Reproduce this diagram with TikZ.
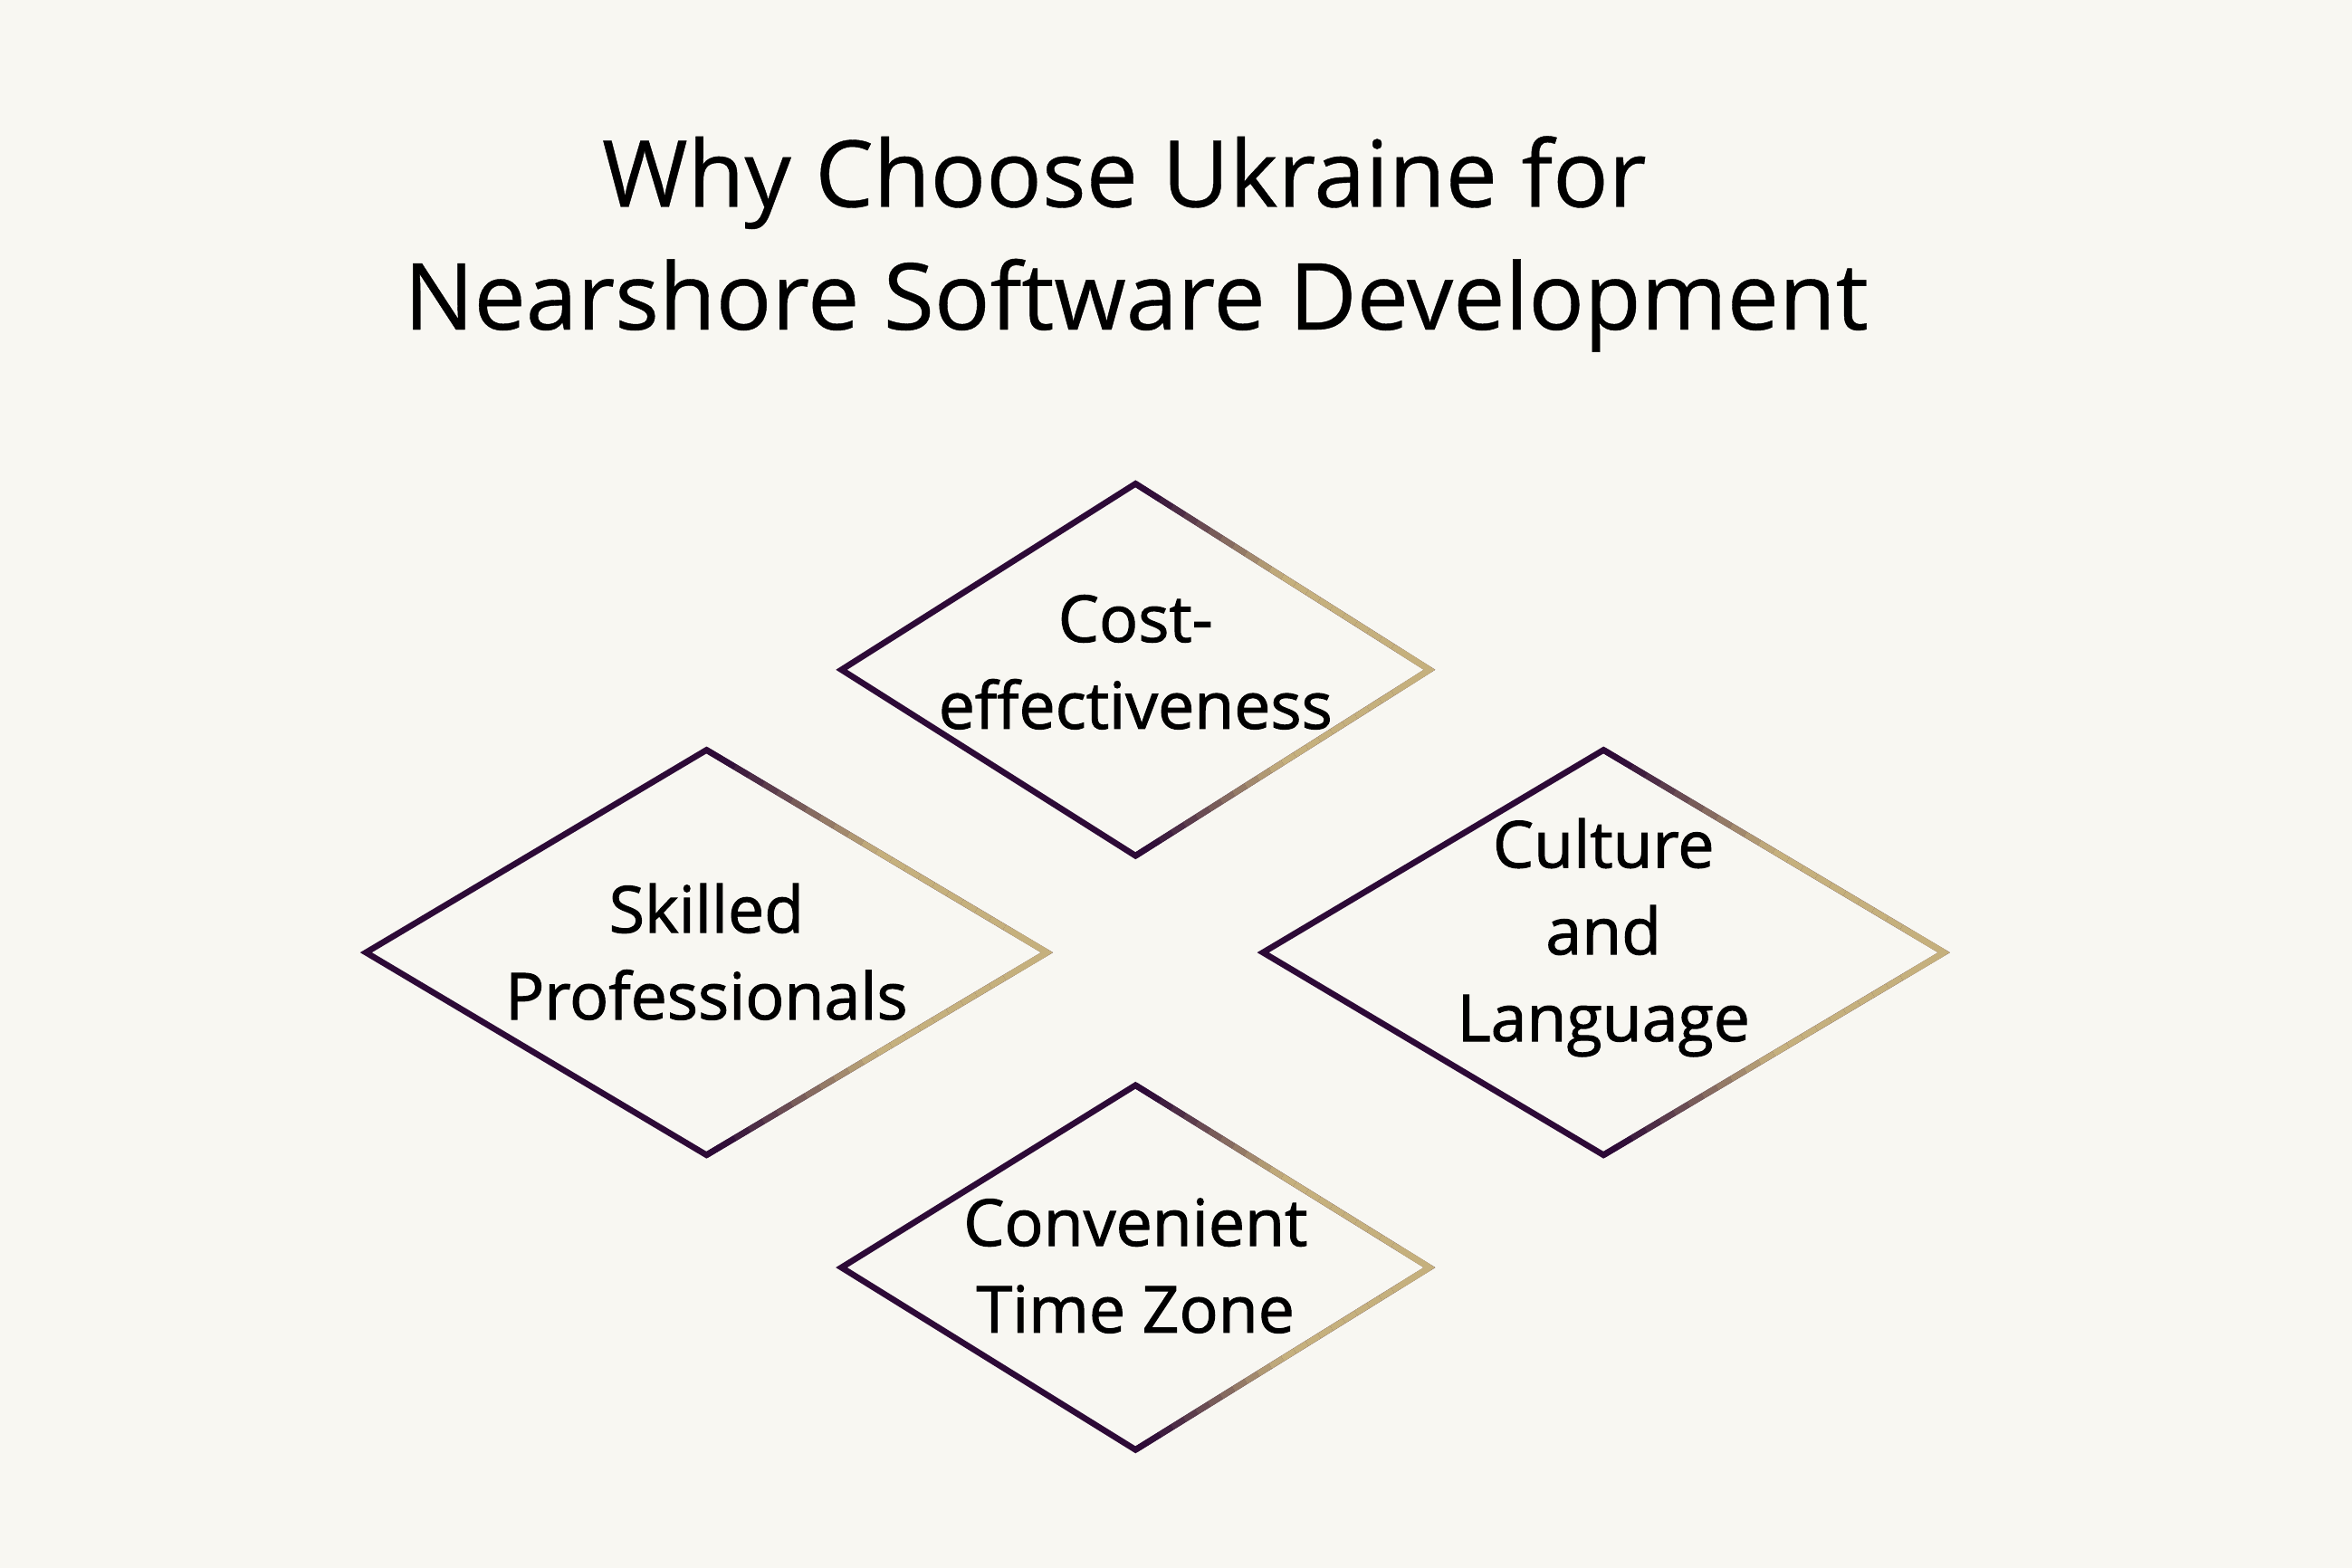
\documentclass[tikz,border=0pt]{standalone}
\usepackage{fontspec}
\setmainfont{Open Sans}
\newfontfamily\itemfont[FakeBold=1.4]{Open Sans}
\usetikzlibrary{calc}
\usetikzlibrary{positioning}

% diamond frame: name, centre, half width, half height
\newcommand{\framediamond}[4]{
  \coordinate (#1-n) at ($(#2)+(0,-#4)$);
  \coordinate (#1-s) at ($(#2)+(0,#4)$);
  \coordinate (#1-w) at ($(#2)+(-#3,0)$);
  \coordinate (#1-e) at ($(#2)+(#3,0)$);
  \draw[edge,col1] (#1-n) -- (#1-w) -- (#1-s) -- (#1-e) -- cycle;
  \foreach \i in {0,...,23}{
    \pgfmathsetmacro\ta{\i/24}
    \pgfmathsetmacro\tb{(\i+1)/24}
    \pgfmathsetmacro\pc{min(100,max(0,((\ta+\tb)/2-0.05)/0.45*100))}
    \draw[edge,butt,col2!\pc!col1] ($(#1-n)!\ta!(#1-e)$) -- ($(#1-n)!\tb!(#1-e)$);
    \draw[edge,butt,col2!\pc!col1] ($(#1-s)!\ta!(#1-e)$) -- ($(#1-s)!\tb!(#1-e)$);
  }
  \draw[edge,col2] ($(#1-n)!0.9!(#1-e)$) -- (#1-e) -- ($(#1-s)!0.9!(#1-e)$);
}

\begin{document}
\begin{tikzpicture}[x=0.016582cm,y=-0.016582cm,
    edge/.style={line width=1.9pt,line join=miter},
    butt/.style={line cap=butt},
    itemtext/.style={align=center,anchor=base,inner sep=0pt,font=\itemfont\fontsize{20.4}{27.3}\selectfont},
    titletext/.style={align=center,anchor=base,inner sep=0pt,font=\addfontfeature{FakeBold=0.4}\fontsize{29.1}{38.6}\selectfont}]
    \definecolor{back}{RGB}{248,247,242}
    \definecolor{col1}{RGB}{45,10,55}
    \definecolor{col2}{RGB}{197,176,125}
    \fill[back] (0,0) rectangle (1568,1045.33);
    \useasboundingbox (0,0) rectangle (1568,1045.33);

    % title
    \node(title) [titletext] at (757.5,219.7) {Why Choose Ukraine for\kern0.26em\\Nearshore Software Development};

    % the four reasons
    \coordinate (cost) at (757,446.5);
    \coordinate (skill) at (471,635);
    \coordinate (culture) at (1069,635);
    \coordinate (zone) at (757,845);

    \framediamond{cost}{cost}{196}{124}
    \framediamond{skill}{skill}{227}{135}
    \framediamond{culture}{culture}{227}{135}
    \framediamond{zone}{zone}{196}{121.5}

    \node(costtext) [itemtext] at (757,485.8) {Cost-\\effectiveness};
    \node(skilltext) [itemtext] at (471,679.6) {Skilled\\Professionals};
    \node(culturetext) [itemtext] at (1069,694.1) {Culture\\and\\Language};
    \node(zonetext) [itemtext] at (757,888.4) {Convenient\\Time Zone};
\end{tikzpicture}
\end{document}
